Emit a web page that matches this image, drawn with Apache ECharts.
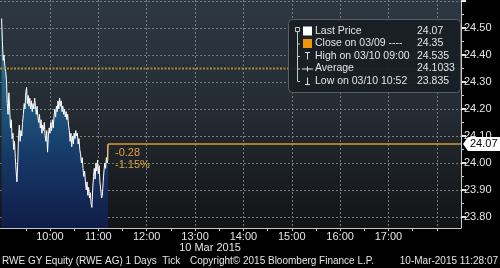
<!DOCTYPE html>
<html><head><meta charset="utf-8">
<script src="https://cdn.jsdelivr.net/npm/echarts@6/dist/echarts.min.js"></script>
<style>html,body{margin:0;padding:0;background:#000;}#c{width:500px;height:268px;}</style>
</head><body><div id="c"></div>
<script>
// ---- data ----
const firstTime = '09:00';          // time of first sample, one sample per minute
const prices = [
24.535,24.45,24.38,24.40,24.36,24.34,24.31,24.22,24.18,24.26,
24.20,24.13,24.16,24.09,24.11,24.05,24.08,24.02,23.97,23.93,
24.00,24.10,24.14,24.08,24.12,24.10,24.15,24.18,24.22,24.20,
24.26,24.28,24.22,24.25,24.21,24.24,24.20,24.23,24.19,24.22,
24.20,24.24,24.21,24.18,24.21,24.17,24.15,24.18,24.13,24.16,
24.11,24.14,24.12,24.15,24.10,24.08,24.12,24.04,24.10,24.13,
24.11,24.15,24.12,24.16,24.13,24.17,24.20,24.17,24.21,24.19,
24.23,24.20,24.24,24.21,24.23,24.19,24.21,24.18,24.20,24.17,
24.19,24.16,24.18,24.14,24.12,24.08,24.11,24.06,24.10,24.07,
24.11,24.09,24.12,24.10,24.11,24.07,24.09,24.05,24.03,24.00,
24.02,23.98,23.95,23.97,23.93,23.90,23.93,23.88,23.91,23.87,
23.89,23.85,23.835,23.90,23.95,23.98,23.94,24.00,23.97,24.01,
23.96,23.99,23.93,23.90,23.87,23.88,23.93,23.97,24.00,23.98,
24.02,24.00,24.07
];
const xMinTime = '08:58', xMaxTime = '18:30';
const hourLabels = ['10:00','11:00','12:00','13:00','14:00','15:00','16:00','17:00'];
const hourGrid = ['10:00','11:00','12:00','13:00','14:00','15:00','16:00','17:00','18:00'];
const halfHourTicks = ['09:30','10:30','11:30','12:30','13:30','14:30','15:30','16:30','17:30'];
const yMin = 23.759, yMax = 24.6037;
const yMajor = [23.80,23.90,24.00,24.10,24.20,24.30,24.40,24.50,24.60];
const yLabelVals = [23.80,23.90,24.00,24.10,24.20,24.30,24.40,24.50];
const yMinor = [23.85,23.95,24.05,24.15,24.25,24.35,24.45,24.55];
const prevClose = 24.35;
const lastPrice = 24.07;
const bracketLow = 24.01;
const changeText = ['-0.28', '-1.15%'];
const legendLabels = ['Last Price','Close on 03/09 ----','High on 03/10 09:00','Average','Low on 03/10 10:52'];
const legendValues = ['24.07','24.35','24.535','24.1033','23.835'];
const dateLabel = '10 Mar 2015';
const footerTexts = ['RWE GY Equity (RWE AG) 1 Days  Tick','Copyright\u00a9 2015 Bloomberg Finance L.P.','10-Mar-2015 11:28:07'];

// ---- helpers ----
const toMin = s => { const [h,m] = s.split(':').map(Number); return h*60+m; };
const fmtTime = v => { const h = Math.floor(v/60), m = Math.round(v%60); return String(h).padStart(2,'0')+':'+String(m).padStart(2,'0'); };
const t0 = toMin(firstTime);
const seriesData = prices.map((p,i) => [t0 + i, p]);
const lastT = t0 + prices.length - 1;
const FONT = 'Liberation Sans';
const TXT = '#e4e4e4';

const chart = echarts.init(document.getElementById('c'), null, {renderer:'canvas'});
const option = {
  backgroundColor: '#000',
  animation: false,
  grid: {
    left: 0, top: 0, right: 39, bottom: 40, show: true, borderWidth: 0,
    backgroundColor: new echarts.graphic.LinearGradient(0,0,0,1,[
      {offset:0,color:'#2e3842'},{offset:0.5,color:'#242b32'},{offset:1,color:'#121416'}])
  },
  xAxis: [{
    type:'value', min: toMin(xMinTime), max: toMin(xMaxTime), position:'bottom',
    axisLine:{show:true, lineStyle:{color:'#c8c8c8', width:1}},
    axisTick:{show:true, customValues: hourGrid.map(toMin), length:3, lineStyle:{color:'#c8c8c8'}},
    axisLabel:{customValues: hourLabels.map(toMin), formatter: v => fmtTime(v), color:TXT, fontFamily:FONT, fontSize:11, margin:3},
    splitLine:{show:true, lineStyle:{color:'#737a82', type:[2,2], width:1}}
  },{
    type:'value', min: toMin(xMinTime), max: toMin(xMaxTime), position:'bottom',
    axisLine:{show:false},
    axisTick:{show:true, customValues: halfHourTicks.map(toMin), length:3, lineStyle:{color:'#c8c8c8'}},
    axisLabel:{show:false}, splitLine:{show:false}
  }],
  yAxis: [{
    type:'value', min:yMin, max:yMax, position:'right',
    axisLine:{show:true, lineStyle:{color:'#c8c8c8', width:1}},
    axisTick:{show:true, customValues: yMajor, length:5, lineStyle:{color:'#e0e0e0', width:2}},
    axisLabel:{customValues: yLabelVals, formatter: v => v.toFixed(2), color:TXT, fontFamily:FONT, fontSize:11, margin:3},
    splitLine:{show:true, lineStyle:{color:'#737a82', type:[2,2], width:1}}
  },{
    type:'value', min:yMin, max:yMax, position:'right',
    axisLine:{show:false},
    axisTick:{show:true, customValues: yMinor, length:3, lineStyle:{color:'#c8c8c8'}},
    axisLabel:{show:false}, splitLine:{show:false}
  }],
  series: [{
    type:'line', data: seriesData, showSymbol:false, z:3,
    lineStyle:{color:'#ffffff', width:1},
    areaStyle:{origin:'start', opacity:1, color: new echarts.graphic.LinearGradient(0,0,0,1,[
      {offset:0,color:'#3a8aaa'},{offset:0.3,color:'#216586'},{offset:0.65,color:'#173a68'},{offset:1,color:'#101c48'}])}
  },{
    type:'line', data:[[toMin(xMinTime), prevClose],[toMin(xMaxTime), prevClose]], showSymbol:false, z:4,
    lineStyle:{color:'#a98a3c', type:[2,1.5], width:2}
  },{
    type:'line', data:[[lastT, lastPrice],[toMin(xMaxTime), lastPrice]], showSymbol:false, z:4,
    lineStyle:{color:'#d8992e', width:1.5}
  },{
    type:'line', data:[[lastT, lastPrice],[lastT, bracketLow]], showSymbol:false, z:4,
    lineStyle:{color:'#d8992e', width:1}
  }]
};
chart.setOption(option);

const [ax, ay] = chart.convertToPixel({gridIndex:0}, [lastT, lastPrice]);
const gridRight = chart.convertToPixel({gridIndex:0}, [toMin(xMaxTime), lastPrice])[0];
const dateX = chart.convertToPixel({gridIndex:0}, [toMin('13:00'), lastPrice])[0];

const g = [];
// change annotation
g.push({type:'text', x: ax+7, y: ay+9, z:50, style:{text:changeText[0], fill:'#e3a33c', font:'11px '+FONT, textVerticalAlign:'middle'}});
g.push({type:'text', x: ax+7, y: ay+21, z:50, style:{text:changeText[1], fill:'#e3a33c', font:'11px '+FONT, textVerticalAlign:'middle'}});
// last price tag
g.push({type:'polygon', z:60, shape:{points:[[gridRight+2,ay],[gridRight+7,ay-7],[500,ay-7],[500,ay+7],[gridRight+7,ay+7]]}, style:{fill:'#ffffff'}});
g.push({type:'text', x: gridRight+9, y: ay, z:61, style:{text: lastPrice.toFixed(2), fill:'#000', font:'11px '+FONT, textVerticalAlign:'middle'}});
// legend box
const lx = 288, ly = 19, lw = 172, lh = 73;
g.push({type:'rect', z:70, shape:{x:lx+0.5, y:ly+0.5, width:lw, height:lh, r:4}, style:{fill:'rgba(24,30,36,0.93)', stroke:'#59606a', lineWidth:1}});
const rowY = [31, 43.5, 56, 68.5, 81];
// tree
g.push({type:'rect', z:71, shape:{x:295.5, y:27.5, width:4, height:4}, style:{fill:'none', stroke:'#c8c8c8', lineWidth:1}});
g.push({type:'line', z:71, shape:{x1:297.5, y1:32, x2:297.5, y2:rowY[4]}, style:{stroke:'#c8c8c8', lineWidth:1}});
for (let i=1;i<5;i++) g.push({type:'line', z:71, shape:{x1:297.5, y1:rowY[i]+0.5, x2:300, y2:rowY[i]+0.5}, style:{stroke:'#c8c8c8', lineWidth:1}});
// icons
g.push({type:'rect', z:71, shape:{x:303, y:rowY[0]-4.5, width:9, height:9}, style:{fill:'#ffffff'}});
g.push({type:'rect', z:71, shape:{x:303, y:rowY[1]-4.5, width:9, height:9}, style:{fill:'#f0960a'}});
g.push({type:'line', z:71, shape:{x1:305, y1:rowY[2]-3.5, x2:310, y2:rowY[2]-3.5}, style:{stroke:'#e0e0e0', lineWidth:1}});
g.push({type:'line', z:71, shape:{x1:307.5, y1:rowY[2]-3.5, x2:307.5, y2:rowY[2]+3.5}, style:{stroke:'#e0e0e0', lineWidth:1}});
g.push({type:'line', z:71, shape:{x1:302, y1:rowY[3]+0.5, x2:313, y2:rowY[3]+0.5}, style:{stroke:'#e0e0e0', lineWidth:1}});
g.push({type:'line', z:71, shape:{x1:307.5, y1:rowY[3]-2, x2:307.5, y2:rowY[3]+3}, style:{stroke:'#e0e0e0', lineWidth:1}});
g.push({type:'line', z:71, shape:{x1:307.5, y1:rowY[4]-3.5, x2:307.5, y2:rowY[4]+3.5}, style:{stroke:'#e0e0e0', lineWidth:1}});
g.push({type:'line', z:71, shape:{x1:305, y1:rowY[4]+3.5, x2:310, y2:rowY[4]+3.5}, style:{stroke:'#e0e0e0', lineWidth:1}});
legendLabels.forEach((t,i) => {
  g.push({type:'text', x:315, y:rowY[i], z:72, style:{text:t, fill:TXT, font:'10.5px '+FONT, textVerticalAlign:'middle'}});
  g.push({type:'text', x:417, y:rowY[i], z:72, style:{text:legendValues[i], fill:TXT, font:'10.5px '+FONT, textVerticalAlign:'middle'}});
});
// date + footer
g.push({type:'text', x: dateX+15, y: 248, z:50, style:{text:dateLabel, fill:TXT, font:'11px '+FONT, textAlign:'center', textVerticalAlign:'middle'}});
g.push({type:'text', x: 2, y: 261, z:50, style:{text:footerTexts[0], fill:TXT, font:'10px '+FONT, textVerticalAlign:'middle'}});
g.push({type:'text', x: 190, y: 261, z:50, style:{text:footerTexts[1], fill:TXT, font:'10px '+FONT, textVerticalAlign:'middle'}});
g.push({type:'text', x: 498, y: 261, z:50, style:{text:footerTexts[2], fill:TXT, font:'10px '+FONT, textAlign:'right', textVerticalAlign:'middle'}});
chart.setOption({graphic: g});
</script></body></html>
